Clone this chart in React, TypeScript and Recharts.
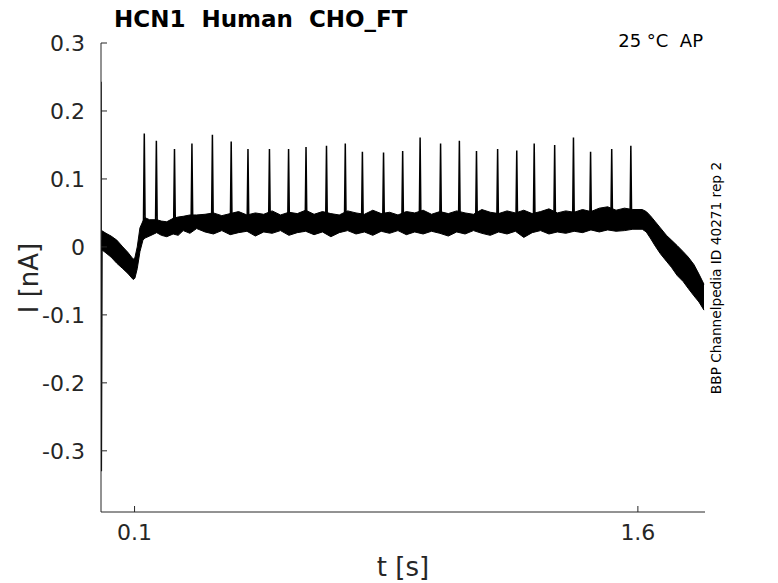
import React from 'react';
import { ComposedChart, Area, Line, XAxis, YAxis } from 'recharts';

// plateau / ramp envelope of the overlaid sweeps (t in s, I in nA)
const bandT = [
  0.002, 0.015, 0.03, 0.047, 0.065, 0.08, 0.096, 0.101, 0.108, 0.116, 0.125, 0.131, 0.145, 0.166, 0.18, 0.196,
  0.215, 0.23, 0.245, 0.265, 0.285, 0.31, 0.335, 0.36, 0.385, 0.41, 0.435, 0.46, 0.485, 0.51, 0.535, 0.56,
  0.585, 0.61, 0.635, 0.66, 0.685, 0.71, 0.735, 0.76, 0.785, 0.81, 0.835, 0.86, 0.885, 0.91, 0.935, 0.96,
  0.985, 1.01, 1.035, 1.06, 1.085, 1.11, 1.135, 1.16, 1.185, 1.21, 1.235, 1.26, 1.285, 1.31, 1.335, 1.36,
  1.385, 1.41, 1.435, 1.46, 1.485, 1.51, 1.535, 1.56, 1.585, 1.613, 1.625, 1.637, 1.652, 1.667, 1.685, 1.7,
  1.717, 1.735, 1.75, 1.767, 1.782, 1.797,
];
const bandLow = [
  -0.004, -0.009, -0.015, -0.024, -0.032, -0.039, -0.048, -0.046, -0.032, -0.007, 0.01, 0.013, 0.016, 0.021, 0.017, 0.015,
  0.019, 0.017, 0.024, 0.02, 0.027, 0.022, 0.019, 0.024, 0.018, 0.021, 0.023, 0.016, 0.022, 0.02, 0.024, 0.017,
  0.021, 0.023, 0.018, 0.022, 0.015, 0.021, 0.024, 0.019, 0.022, 0.017, 0.023, 0.02, 0.024, 0.018, 0.022, 0.019,
  0.023, 0.02, 0.016, 0.022, 0.019, 0.024, 0.02, 0.017, 0.022, 0.019, 0.023, 0.014, 0.021, 0.024, 0.019, 0.022,
  0.02, 0.023, 0.021, 0.025, 0.022, 0.025, 0.023, 0.024, 0.026, 0.026, 0.022, 0.013, 0.001, -0.01, -0.021, -0.03,
  -0.042, -0.051, -0.061, -0.072, -0.081, -0.093,
];
const bandHigh = [
  0.024, 0.02, 0.016, 0.01, 0.0, -0.008, -0.018, -0.016, 0.0, 0.028, 0.038, 0.043, 0.04, 0.04, 0.038, 0.037,
  0.042, 0.044, 0.045, 0.047, 0.047, 0.048, 0.05, 0.046, 0.049, 0.052, 0.047, 0.05, 0.048, 0.053, 0.047, 0.051,
  0.049, 0.054, 0.048, 0.052, 0.049, 0.047, 0.053, 0.05, 0.048, 0.054, 0.049, 0.051, 0.047, 0.052, 0.05, 0.054,
  0.048, 0.052, 0.049, 0.053, 0.05, 0.048, 0.055, 0.051, 0.049, 0.053, 0.05, 0.054, 0.049, 0.052, 0.056, 0.05,
  0.053, 0.051, 0.055, 0.052, 0.057, 0.059, 0.054, 0.057, 0.055, 0.055, 0.052, 0.046, 0.037, 0.028, 0.017, 0.01,
  0.002, -0.007, -0.015, -0.026, -0.04, -0.055,
];

// capacitive transient at the step onset
const transientT = [0, 0.001, 0.003];
const transientI = [0.243, -0.33, 0.01];

// action-potential-like spikes riding on the plateau
const spikeT = [
  0.129, 0.165, 0.219, 0.271, 0.332, 0.388, 0.438, 0.502, 0.559, 0.611, 0.672, 0.728, 0.779, 0.842,
  0.899, 0.951, 1.012, 1.068, 1.119, 1.182, 1.239, 1.291, 1.352, 1.408, 1.459, 1.522, 1.579,
];
const spikePeak = [
  0.167, 0.156, 0.144, 0.152, 0.165, 0.155, 0.144, 0.144, 0.144, 0.147, 0.149, 0.152, 0.14, 0.139,
  0.141, 0.161, 0.152, 0.156, 0.141, 0.144, 0.142, 0.152, 0.15, 0.161, 0.14, 0.144, 0.149,
];
const spikeBase = 0.035;

const yTicks = [-0.3, -0.2, -0.1, 0, 0.1, 0.2, 0.3];
const xTicks = [0.1, 1.6];

const FONT = '"DejaVu Sans", sans-serif';
const INK = '#262626';

const bandData = bandT.map((t, i) => ({ t, range: [bandLow[i], bandHigh[i]] }));
const transientData = transientT.map((t, i) => ({ t, v: transientI[i] }));
const spikeData = spikeT.flatMap((t, i) => [
  { t: t - 0.0025, v: spikeBase },
  { t, v: spikePeak[i] },
  { t: t + 0.0025, v: spikeBase },
]);

const fmt = (v: number) => String(+v.toFixed(1));

export default function App() {
  return (
    <div style={{ position: 'absolute', left: 0, top: 0, width: 778, height: 583, background: '#fff' }}>
      <ComposedChart width={778} height={583} margin={{ top: 43, right: 73, bottom: 31, left: 30 }}>
        <XAxis
          type="number"
          dataKey="t"
          domain={[0, 1.8]}
          allowDataOverflow
          ticks={xTicks}
          tickFormatter={fmt}
          height={40}
          tickSize={-6}
          tickMargin={18}
          stroke={INK}
          tick={{ fill: INK, fontSize: 22, fontFamily: FONT }}
        />
        <YAxis
          type="number"
          domain={[-0.39, 0.3]}
          allowDataOverflow
          ticks={yTicks}
          tickFormatter={fmt}
          width={71}
          tickSize={-6}
          tickMargin={22}
          stroke={INK}
          tick={{ fill: INK, fontSize: 22, fontFamily: FONT }}
        />
        <Area
          data={bandData}
          dataKey="range"
          type="linear"
          stroke="#000"
          strokeWidth={1}
          fill="#000"
          fillOpacity={1}
          dot={false}
          activeDot={false}
          isAnimationActive={false}
        />
        <Line
          data={spikeData}
          dataKey="v"
          type="linear"
          stroke="#000"
          strokeWidth={1.5}
          dot={false}
          activeDot={false}
          isAnimationActive={false}
        />
        <Line
          data={transientData}
          dataKey="v"
          type="linear"
          stroke="#000"
          strokeWidth={1.5}
          dot={false}
          activeDot={false}
          isAnimationActive={false}
        />
      </ComposedChart>
      <svg
        width={778}
        height={583}
        style={{ position: 'absolute', left: 0, top: 0, pointerEvents: 'none' }}
        fontFamily={FONT}
      >
        <text x={114} y={27} fontSize={23} fontWeight="bold" fill="#000" style={{ whiteSpace: 'pre' }}>
          {'HCN1  Human  CHO_FT'}
        </text>
        <text x={703} y={47} fontSize={18} fill="#000" textAnchor="end" style={{ whiteSpace: 'pre' }}>
          {'25 °C  AP'}
        </text>
        <text x={721} y={278} fontSize={13.7} fill="#000" textAnchor="middle" transform="rotate(-90 721 278)">
          BBP Channelpedia ID 40271 rep 2
        </text>
        <text x={38} y={278} fontSize={26} fill={INK} textAnchor="middle" transform="rotate(-90 38 278)">
          I [nA]
        </text>
        <text x={403} y={576} fontSize={26} fill={INK} textAnchor="middle">
          t [s]
        </text>
      </svg>
    </div>
  );
}
